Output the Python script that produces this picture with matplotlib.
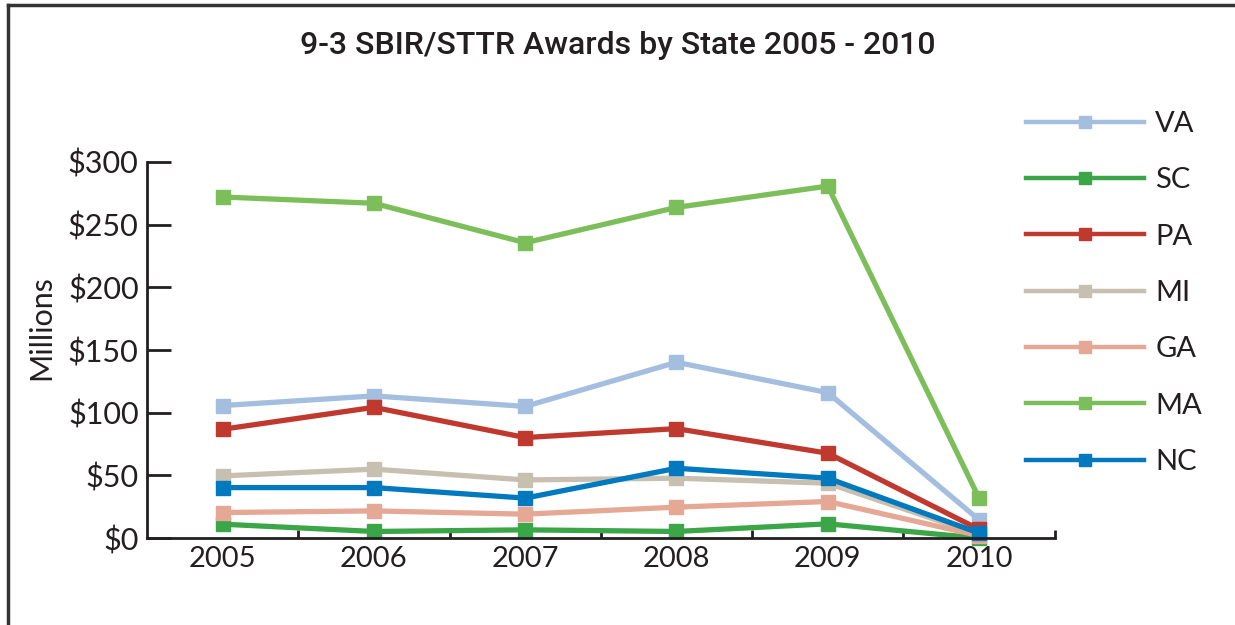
import matplotlib
matplotlib.use("Agg")
import matplotlib.pyplot as plt
from matplotlib.lines import Line2D
import numpy as np

# datos (millones de dolares)
years = ["2005", "2006", "2007", "2008", "2009", "2010"]
states = ["VA", "SC", "PA", "MI", "GA", "MA", "NC"]
va = [105.7, 113.4, 105.0, 140.2, 116.0, 14.6]
sc = [11.1, 5.3, 6.6, 5.3, 11.4, 0.0]
pa = [86.8, 104.3, 80.2, 87.3, 67.7, 7.0]
mi = [49.6, 55.0, 46.4, 47.8, 43.8, 3.0]
ga = [20.4, 21.7, 19.1, 24.7, 29.2, 2.0]
ma = [272.0, 267.0, 235.5, 263.7, 280.7, 31.9]
nc = [40.3, 40.3, 31.9, 55.7, 47.8, 4.0]
colors = ["#A3BEDE", "#3AA648", "#C0392F", "#C7BFAF", "#E4A895", "#7CBF5A", "#0079BF"]

series = [va, sc, pa, mi, ga, ma, nc]

plt.rcParams['font.family'] = ['Lato', 'DejaVu Sans']

fig = plt.figure(figsize=(12.35, 6.25), dpi=100)
ax = fig.add_axes([0.119, 0.139, 0.735, 0.602])

x = np.arange(len(years))
for vals, name, col in zip(series, states, colors):
    ax.plot(x, vals, color=col, lw=3.8, marker='s', markersize=10,
            label=name, solid_joinstyle='miter', clip_on=False)

ax.set_xlim(-0.5, len(years) - 0.5)
ax.set_ylim(0, 300)
ax.set_yticks(np.arange(0, 301, 50))
ax.set_yticklabels(["$%d" % v for v in range(0, 301, 50)])
ax.set_xticks(x)
ax.set_xticklabels(years)
ax.set_xticks(np.arange(0.5, len(years), 1), minor=True)

for s in ['top', 'right']:
    ax.spines[s].set_visible(False)
for s in ['left', 'bottom']:
    ax.spines[s].set_color('#231F20')
    ax.spines[s].set_linewidth(2)

ax.tick_params(axis='y', direction='in', length=17, width=2, color='#231F20',
               labelsize=22, labelcolor='#231F20', pad=6)
ax.tick_params(axis='x', which='major', length=0, labelsize=21,
               labelcolor='#231F20', pad=6)
ax.tick_params(axis='x', which='minor', direction='in', length=6, width=2,
               color='#231F20')

ax.set_ylabel("Millions", fontsize=22, color='#231F20')
ax.yaxis.set_label_coords(-0.101, 0.56)

fig.text(0.5, 0.927, "9-3 SBIR/STTR Awards by State 2005 - 2010",
         ha='center', va='center', fontsize=23, color='#231F20',
         fontweight='medium', family=['Roboto', 'DejaVu Sans'])

leg = ax.legend(loc='upper left', bbox_to_anchor=(0.939, 1.205), frameon=False,
                fontsize=21, handlelength=4.05, handletextpad=0.4,
                labelspacing=1.04, markerscale=0.8)
for h in leg.get_lines():
    h.set_linewidth(3.2)
for t in leg.get_texts():
    t.set_color('#231F20')

# marco del recuadro
fig.add_artist(Line2D([8 / 1235, 1.0], [1 - 5 / 625, 1 - 5 / 625],
                      transform=fig.transFigure, color='#333333', lw=2.5))
fig.add_artist(Line2D([8 / 1235, 8 / 1235], [0, 1 - 5 / 625],
                      transform=fig.transFigure, color='#333333', lw=2.5))

fig.savefig("out.png", dpi=100)
